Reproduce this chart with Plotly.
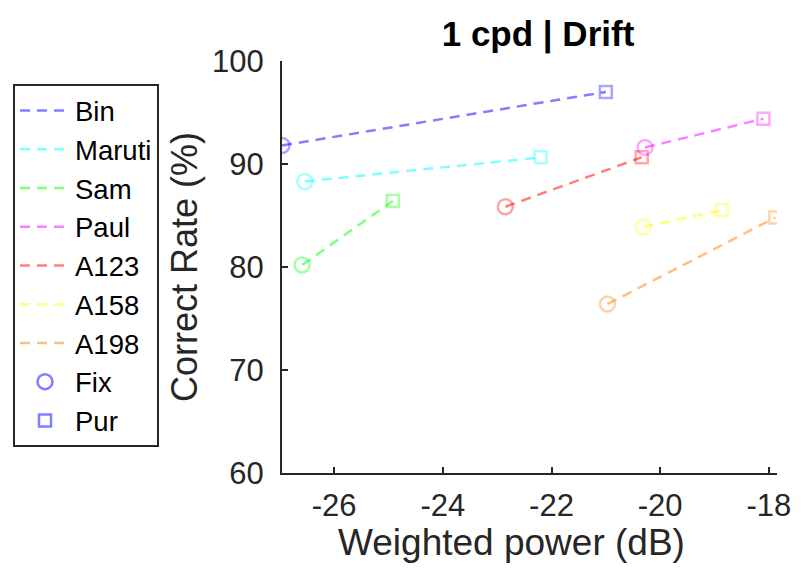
import plotly.graph_objects as go

subjects = ["Bin", "Maruti", "Sam", "Paul", "A123", "A158", "A198"]
colors = ["rgba(0,0,255,0.5)", "rgba(0,255,255,0.5)", "rgba(0,255,0,0.5)",
          "rgba(255,0,255,0.5)", "rgba(255,0,0,0.5)", "rgba(255,255,0,0.5)",
          "rgba(255,128,0,0.5)"]

# Weighted power (dB) and correct rate (%) for Fix and Pur conditions
fix_power = [-26.96, -26.54, -26.59, -20.28, -22.85, -20.31, -20.97]
fix_rate = [91.8, 88.3, 80.2, 91.6, 85.85, 83.9, 76.4]
pur_power = [-21.0, -22.2, -24.92, -18.1, -20.34, -18.87, -17.88]
pur_rate = [97.0, 90.65, 86.4, 94.4, 90.65, 85.5, 84.8]

conditions = ["Fix", "Pur"]
symbols = ["circle-open", "square-open"]

FONT = "Liberation Sans, Arial, Helvetica, sans-serif"
AX = "#262626"

fig = go.Figure()
for i, s in enumerate(subjects):
    xs = [fix_power[i], pur_power[i]]
    ys = [fix_rate[i], pur_rate[i]]
    fig.add_trace(go.Scatter(
        x=xs, y=ys, mode="lines", name=s,
        line=dict(color=colors[i], width=2.5, dash="10px,7px"),
        showlegend=True))
    fig.add_trace(go.Scatter(
        x=xs, y=ys, mode="markers", name=s, showlegend=False,
        marker=dict(symbol=symbols, size=[15, 12], color=colors[i],
                    line=dict(width=2.5, color=colors[i]))))

for c, sym, sz in zip(conditions, symbols, [15, 12]):
    fig.add_trace(go.Scatter(
        x=[None], y=[None], mode="markers", name=c,
        marker=dict(symbol=sym, size=sz, color=colors[0],
                    line=dict(width=2.5, color=colors[0]))))

W, H = 812, 571
OFF = 8  # page body margin
L, T = 282 - OFF, 61 - OFF
R = W - (777 - OFF)
B = H - (473 - OFF)
pw, ph = W - L - R, H - T - B

fig.update_layout(
    width=W, height=H,
    margin=dict(l=L, r=R, t=T, b=B, autoexpand=False),
    paper_bgcolor="white", plot_bgcolor="white",
    font=dict(family=FONT, size=31, color=AX),
    title=dict(text="<b>1 cpd | Drift</b>", x=(538 - OFF) / W, xanchor="center",
               y=1 - (34 - OFF) / H, yanchor="middle",
               font=dict(family=FONT, size=35, color="black")),
    legend=dict(x=(13 - OFF - L) / pw, xanchor="left",
                y=(H - B - (84 - OFF)) / ph,
                yanchor="top", bgcolor="white", bordercolor=AX, borderwidth=2,
                font=dict(family=FONT, size=27.5, color="black"),
                itemwidth=50, tracegroupgap=0),
    showlegend=True,
    annotations=[dict(
        text="Weighted power (dB)", xref="paper", yref="paper",
        x=(511 - OFF - L) / pw, y=-(542 - 473) / ph,
        xanchor="center", yanchor="middle", showarrow=False,
        font=dict(family=FONT, size=37, color=AX))],
)
fig.update_xaxes(
    range=[-26.96, -17.85], tickvals=[-26, -24, -22, -20, -18],
    ticktext=["-26", "-24", "-22", "-20", "-18"],
    showline=True, linecolor=AX, linewidth=2, ticks="inside", ticklen=6,
    tickwidth=2, tickcolor=AX, showgrid=False, zeroline=False,
    automargin=False, ticklabelstandoff=4,
)
fig.update_yaxes(
    range=[60, 100], tickvals=[60, 70, 80, 90, 100],
    showline=True, linecolor=AX, linewidth=2, ticks="inside", ticklen=6,
    tickwidth=2, tickcolor=AX, showgrid=False, zeroline=False,
    automargin=False, ticklabelstandoff=10,
    title=dict(text="Correct Rate (%)", font=dict(size=36, color=AX), standoff=3),
)
fig.write_html("out.html")
